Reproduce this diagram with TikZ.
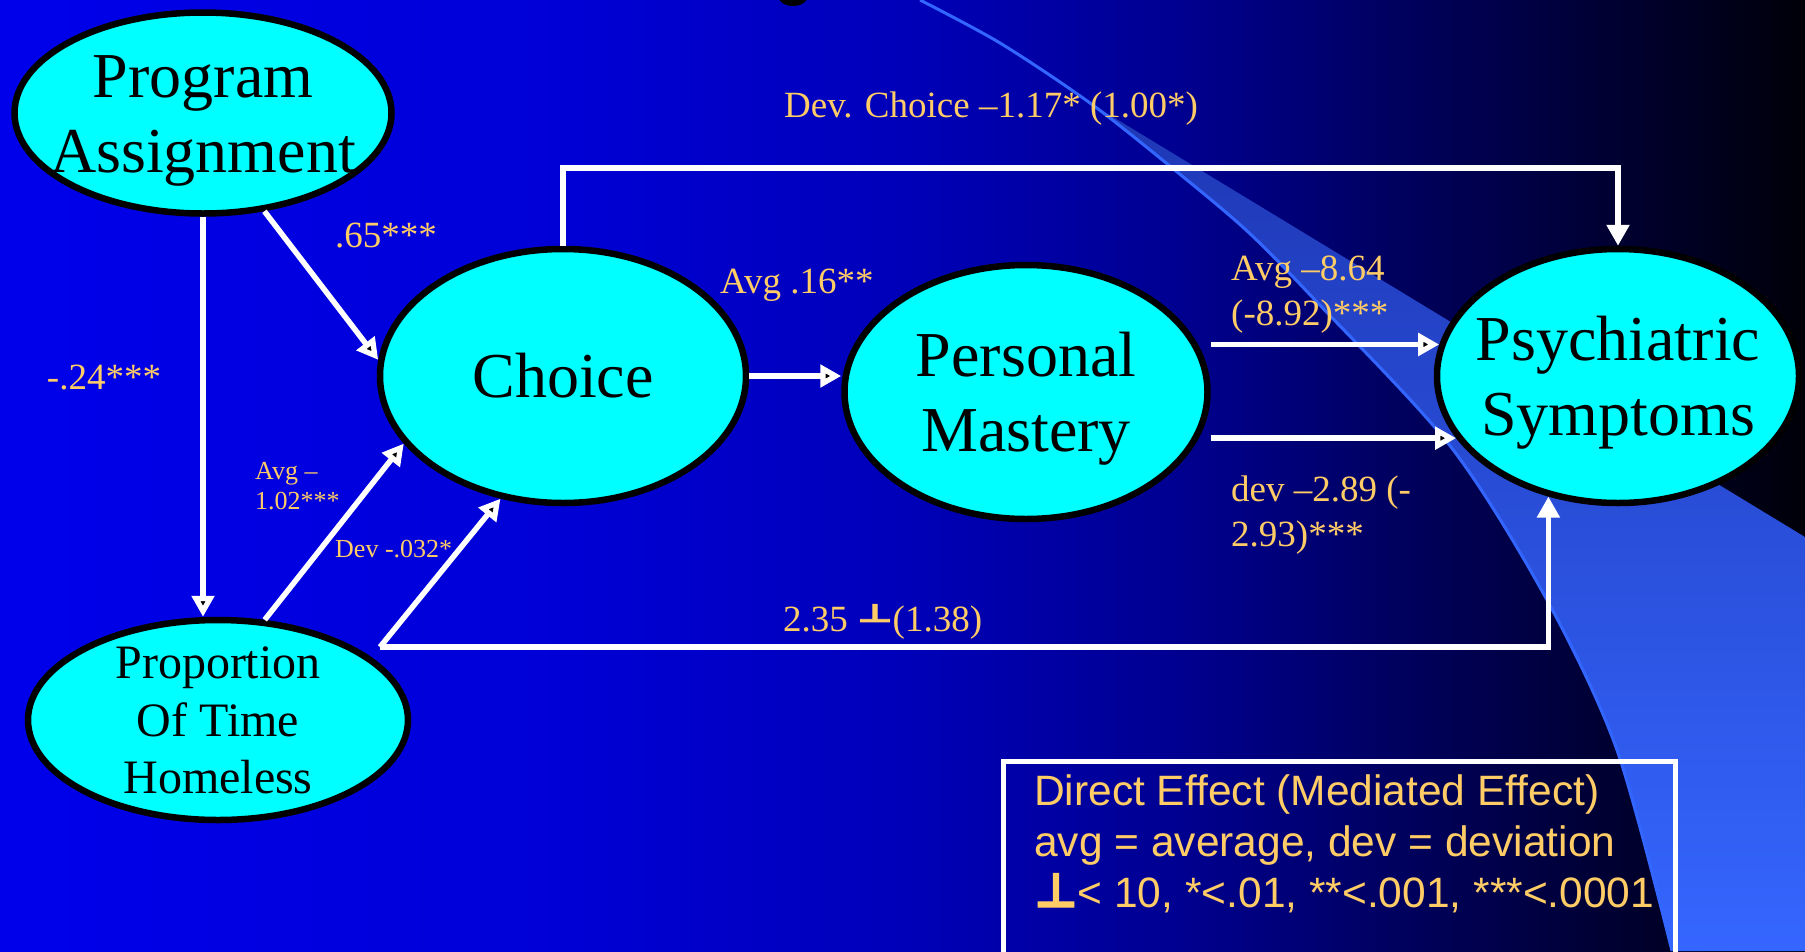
\documentclass[tikz,border=0pt]{standalone}
\usepackage{fontspec}
\usepackage{tikz}
\usepackage{graphicx}
\usetikzlibrary{
    arrows.meta,
    shapes.geometric
}
\setmainfont{Liberation Serif}
\newfontfamily\legendfont{Liberation Sans}
\newfontfamily\perpfont[FakeBold=2.5]{DejaVu Sans Bold}
\newcommand{\tallstrut}{\rule[-0.216em]{0pt}{1.106em}}

\definecolor{bgA}{RGB}{0,0,235}
\definecolor{bgB}{RGB}{0,0,215}
\definecolor{bgC}{RGB}{0,0,185}
\definecolor{bgD}{RGB}{0,0,145}
\definecolor{bgE}{RGB}{0,0,85}
\definecolor{bgF}{RGB}{0,0,40}
\definecolor{bgG}{RGB}{0,0,8}
\definecolor{swA}{RGB}{30,55,180}
\definecolor{swB}{RGB}{52,98,245}
\definecolor{swC}{RGB}{53,102,255}
\definecolor{swooshblue}{RGB}{51,102,255}
\definecolor{nodecyan}{RGB}{0,255,255}
\definecolor{labelgold}{RGB}{255,204,102}

\pgfdeclarehorizontalshading{slidebg}{100bp}{color(0bp)=(bgA); color(25bp)=(bgA); color(40bp)=(bgB); color(50bp)=(bgC); color(57.5bp)=(bgD); color(65bp)=(bgE); color(71bp)=(bgF); color(75bp)=(bgG); color(100bp)=(bgG)}

\tikzset{
    construct/.style={ellipse, draw=black, line width=6.5pt, fill=nodecyan, inner sep=-25pt, align=center, font=\fontsize{64}{75}\selectfont},
    link/.style={draw=white, line width=5.5pt},
    coef/.style={text=labelgold, inner sep=0pt, font=\fontsize{37}{45}\selectfont},
    smallcoef/.style={coef, font=\fontsize{26}{30}\selectfont}
}

\begin{document}
\begin{tikzpicture}[x=1pt, y=-1pt, >={Triangle[length=21pt, width=22pt]}]
    \useasboundingbox (0,0) rectangle (1805,951);
    \clip (0,0) rectangle (1805,951);
    \shade[shading=slidebg] (0,0) rectangle (1805,951);

    \shade[top color=swA, middle color=swB, bottom color=swC]
    plot[smooth] coordinates {(1090,103) (1171,167) (1246,230) (1315,300) (1451,447) (1547,600) (1617,750) (1672,951)}
    -- (1805,951) -- (1805,537) -- cycle;
    \draw[swooshblue, line width=3pt]
    plot[smooth] coordinates {(920,0) (1000,43) (1090,103) (1171,167) (1246,230) (1315,300) (1451,447) (1547,600) (1617,750) (1672,951)};
    \fill[black] (793,-4) ellipse [x radius=15pt, y radius=10pt];

    \node[construct, minimum width=377pt, minimum height=201pt] (pa) at (203,113) {\tallstrut Program\\Assignment\tallstrut};
    \node[construct, minimum width=366pt, minimum height=254pt] (choice) at (563,376) {\tallstrut Choice};
    \node[construct, minimum width=363pt, minimum height=254pt] (pm) at (1026,392) {\tallstrut Personal\\Mastery\tallstrut};
    \node[construct, minimum width=362pt, minimum height=254pt] (ps) at (1618,376) {\tallstrut Psychiatric\\Symptoms\tallstrut};
    \node[construct, minimum width=380pt, minimum height=200pt, font=\fontsize{48}{57.5}\selectfont] (pth) at (218,720) {\tallstrut Proportion\\Of Time\\Homeless\tallstrut};
    \coordinate (fork) at (380,647);

    \draw[link]
    (pa.south) edge[->] (pa.south |- pth.north)
    (pa.-58) edge[->] (choice.175)
    (pth.65) edge[->] (choice.203)
    (fork) edge[->] (choice.243)
    (choice.east) edge[->] (choice.east -| pm.west)
    (ps.170 -| pm.east) edge[->] (ps.170)
    (ps.201 -| pm.east) edge[->] (ps.201);
    \draw[link, ->] (choice.north) -- ++(0,-78) -| (ps.north);
    \draw[link, ->] (fork) -| (ps.240);

    \node[coef] (l24) at (104,378) {-.24***};
    \node[coef] (l65) at (386,236) {.65***};
    \node[coef] (ldevchoice) at (991,109) {Dev. Choice –1.17* (1.00*)};
    \node[coef, anchor=west] (l16) at (720,285) {Avg .16**};
    \node[coef, anchor=west, align=left] (l864) at (1231,295) {Avg –8.64\\(-8.92)***};
    \node[coef, anchor=west, align=left] (l289) at (1231,515) {dev –2.89 (-\\2.93)***};
    \node[smallcoef, anchor=west, align=left] (l102) at (255,486) {Avg –\\1.02***};
    \node[smallcoef, anchor=west] (l032) at (335,549) {Dev -.032*};
    \node[coef, anchor=west] (l235) at (783,622) {2.35 \raisebox{10pt}{\scalebox{1.05}[0.68]{\perpfont ⊥}}(1.38)};

    \draw[white, line width=5pt] (1003,761) rectangle (1675,975);
    \node[anchor=north west, align=left, text=labelgold, inner sep=0pt, font=\legendfont\fontsize{42.5}{51}\selectfont] (legend) at (1034,774)
    {Direct Effect (Mediated Effect)\\avg = average, dev = deviation\\\scalebox{1.12}{\perpfont ⊥}< 10, *<.01, **<.001, ***<.0001};
\end{tikzpicture}
\end{document}
